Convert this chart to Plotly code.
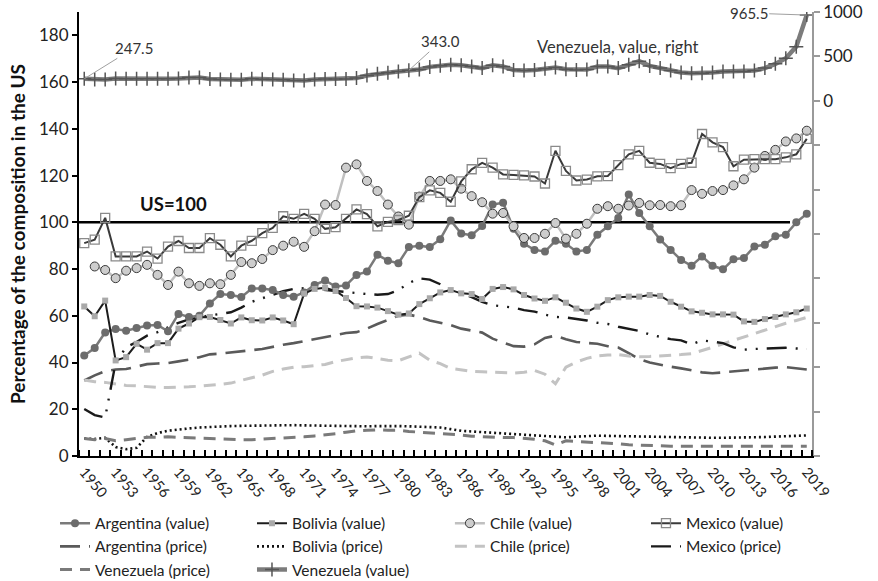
import plotly.graph_objects as go

# ---- data -----------------------------------------------------------------
years = list(range(1950, 2020))

argentina_value = [
    43.0, 46.2, 52.9, 54.3, 53.6, 54.8, 55.8, 56.1, 53.4, 60.8,
    59.5, 60.0, 65.3, 69.3, 68.9, 68.0, 71.7, 71.7, 71.0, 68.9,
    68.2, 70.0, 73.2, 75.1, 72.5, 73.0, 77.5, 78.9, 86.1, 83.6,
    82.5, 89.4, 90.0, 89.4, 92.8, 100.8, 95.2, 94.5, 98.4, 107.6,
    108.4, 97.2, 90.8, 88.2, 87.5, 92.1, 90.8, 87.5, 88.2, 94.7,
    98.3, 101.9, 111.9, 104.0, 98.3, 92.6, 88.2, 83.9, 81.4, 85.4,
    81.4, 79.9, 84.2, 84.7, 89.7, 90.4, 94.0, 94.7, 100.0, 103.7,
]
bolivia_value = [
    64.0, 59.8, 66.5, 40.9, 42.3, 48.0, 45.5, 48.3, 48.3, 54.5,
    56.7, 59.4, 59.5, 58.2, 56.7, 59.3, 58.1, 58.0, 59.3, 58.0,
    56.4, 69.5, 71.5, 72.0, 70.6, 67.6, 64.1, 64.0, 63.5, 62.0,
    60.5, 61.0, 65.0, 67.5, 70.0, 71.0, 69.6, 69.3, 67.2, 71.5,
    72.3, 71.3, 68.9, 67.4, 66.4, 67.9, 65.6, 63.1, 61.7, 63.9,
    66.7, 67.9, 68.2, 68.2, 68.9, 68.5, 66.0, 63.9, 61.9, 61.3,
    60.6, 60.6, 60.5, 57.6, 57.4, 58.6, 59.5, 60.6, 61.5, 63.1,
]
chile_value = [
    None, 81.1, 79.6, 76.1, 79.3, 80.4, 81.8, 77.5, 73.2, 78.9,
    73.9, 72.8, 73.9, 73.5, 77.5, 83.0, 82.5, 84.3, 88.1, 90.0,
    91.7, 89.5, 96.2, 107.6, 107.4, 123.4, 124.8, 117.7, 113.4, 107.6,
    102.5, 99.0, 111.0, 117.7, 117.7, 118.4, 114.4, 111.2, 108.6, 103.7,
    104.0, 98.3, 93.3, 93.3, 95.1, 99.7, 93.0, 95.1, 99.4, 105.8,
    106.9, 105.8, 107.2, 108.3, 107.3, 107.4, 106.9, 107.3, 113.8, 112.2,
    113.4, 113.8, 115.8, 118.4, 123.4, 128.4, 131.0, 134.6, 135.9, 139.2,
]
mexico_value = [
    91.1, 92.6, 101.9, 85.4, 85.4, 85.4, 87.5, 84.5, 89.6, 92.0,
    89.0, 89.0, 93.2, 90.4, 85.4, 90.0, 92.1, 95.4, 97.6, 102.6,
    101.5, 103.6, 101.5, 97.2, 97.9, 101.5, 105.5, 103.5, 98.3, 100.2,
    101.0, 102.8, 110.8, 113.7, 112.6, 108.8, 117.5, 122.7, 125.4, 123.4,
    120.5, 120.3, 120.1, 119.6, 116.6, 130.6, 122.0, 117.9, 118.3, 119.7,
    119.8, 124.5, 129.1, 130.6, 125.5, 125.0, 123.2, 125.0, 125.5, 137.8,
    134.2, 132.2, 124.0, 126.8, 127.0, 127.0, 127.0, 127.8, 129.1, 135.7,
]
argentina_price = [
    32.3, 34.5, 36.3, 37.0, 37.2, 38.2, 39.3, 39.6, 39.8, 40.5,
    41.2, 42.3, 43.5, 43.8, 44.2, 44.8, 45.3, 45.8, 46.8, 47.6,
    48.3, 49.2, 50.0, 50.8, 52.0, 52.6, 53.0, 54.5, 56.5, 58.2,
    60.0, 60.5, 59.5, 58.0, 57.0, 56.0, 54.5, 53.8, 52.8, 50.2,
    48.5, 47.0, 46.8, 47.8, 50.5, 51.5, 50.0, 48.8, 48.4, 48.0,
    47.0, 46.4, 44.0, 41.5, 40.0, 39.0, 38.2, 37.5, 36.5, 35.8,
    35.4, 35.8, 36.4, 36.6, 36.9, 37.4, 37.8, 38.0, 37.6, 37.0,
]
bolivia_price = [
    7.5, 7.3, 7.8, 3.8, 2.9, 3.5, 8.2, 9.8, 10.8, 11.4,
    11.8, 12.2, 12.5, 12.7, 12.8, 12.9, 13.0, 13.1, 13.2, 13.2,
    13.2, 13.1, 13.0, 13.0, 12.9, 12.9, 12.8, 12.7, 12.8, 12.9,
    12.8, 12.7, 12.6, 12.5, 12.2, 11.5, 10.8, 10.5, 10.2, 10.0,
    9.8, 9.4, 9.0, 8.8, 8.5, 8.2, 8.0, 8.3, 8.6, 8.7,
    8.6, 8.5, 8.4, 8.3, 8.2, 8.0, 7.9, 7.8, 7.8, 7.8,
    7.8, 7.8, 7.8, 7.9, 8.0, 8.1, 8.3, 8.5, 8.6, 8.8,
]
chile_price = [
    32.5, 31.8, 31.5, 30.8, 30.2, 30.0, 29.6, 29.4, 29.3, 29.3,
    29.6, 29.9, 30.2, 30.6, 31.2, 32.2, 33.5, 34.6, 36.2, 37.2,
    38.0, 38.2, 38.6, 39.2, 40.4, 41.2, 42.0, 42.4, 41.6, 41.0,
    40.8, 42.5, 44.0, 41.0, 39.5, 37.5, 36.8, 36.2, 36.0, 35.8,
    35.6, 35.5, 35.8, 36.6, 35.0, 30.9, 38.0, 40.2, 41.8, 42.8,
    43.2, 43.4, 42.8, 42.5, 42.6, 42.8, 43.2, 43.4, 43.8, 45.0,
    46.5, 48.0, 49.5, 51.0, 52.6, 54.0, 55.5, 56.8, 58.0, 59.3,
]
mexico_price = [
    20.1, 17.5, 16.5, 40.0, 46.5, 48.8, 51.5, 53.0, 55.0, 57.0,
    58.5, 59.5, 60.2, 60.8, 61.5, 63.5, 66.0, 67.5, 69.0, 70.5,
    71.5, 71.8, 71.5, 71.0, 70.5, 70.0, 69.8, 69.3, 69.0, 69.3,
    71.0, 74.0, 76.0, 75.5, 73.5, 71.0, 69.5, 68.0, 66.0, 64.5,
    64.0, 63.5, 62.4, 61.8, 60.5, 59.5, 59.3, 58.7, 58.0, 57.0,
    56.5, 55.3, 54.3, 53.5, 52.0, 51.0, 50.0, 49.5, 47.8, 49.5,
    49.0, 48.3, 46.5, 45.5, 45.8, 46.0, 46.3, 46.3, 46.0, 45.8,
]
venezuela_price = [
    7.5, 7.0, 7.5, 6.5, 7.0, 7.5, 8.0, 8.0, 8.2, 8.0,
    7.8, 7.6, 7.4, 7.2, 7.2, 7.0, 7.0, 7.2, 7.4, 7.6,
    7.8, 8.2, 8.6, 9.0, 9.5, 10.2, 10.8, 11.0, 11.2, 11.0,
    11.0, 10.5, 10.2, 10.0, 9.8, 9.5, 9.0, 8.5, 8.2, 8.0,
    7.9, 7.9, 7.6, 7.2, 6.5, 4.7, 6.5, 6.3, 5.9, 5.6,
    5.4, 5.2, 4.8, 4.6, 4.4, 4.3, 4.2, 4.2, 4.2, 4.2,
    4.2, 4.2, 4.2, 4.2, 4.2, 4.2, 4.2, 4.2, 4.2, 4.2,
]
# Venezuela value is plotted against the right-hand axis
venezuela_value = [
    247.5, 240, 240, 250, 247, 247, 247, 247, 247, 250,
    262, 262, 245, 240, 236, 236, 248, 242, 240, 236,
    230, 230, 240, 245, 245, 245, 258, 284, 305, 315,
    330, 343.0, 352, 382, 395, 405, 400, 386, 368, 400,
    386, 348, 341, 348, 360, 375, 356, 348, 352, 386,
    386, 368, 405, 445, 393, 368, 341, 318, 311, 311,
    318, 330, 330, 330, 341, 368, 416, 480, 610, 965.5,
]

us_level = 100
us_line_end = 2017.4
left_ticks = list(range(0, 181, 20))
right_ticks = list(range(-4000, 1001, 500))
right_labels = [str(v) if v >= 0 else "" for v in right_ticks]
labelled_points = [1950, 1981, 2019]   # Venezuela value points carrying a label

FONT = "Lato, 'Open Sans', sans-serif"

fig = go.Figure()


def line(name, values, legend, rank, color, width, dash="solid", marker=None,
         axis="y"):
    fig.add_trace(go.Scatter(
        x=years, y=values, name=name, legend=legend, legendrank=rank,
        yaxis=axis, mode="lines+markers" if marker else "lines",
        line=dict(color=color, width=width, dash=dash),
        marker=marker, connectgaps=False,
    ))


# price series (drawn first so the value series sit on top)
line("Argentina (price)", argentina_price, "legend", 2, "#5a5a5a", 2.6,
     "20px,9px")
line("Bolivia (price)", bolivia_price, "legend2", 2, "#111111", 2.6, "2px,3px")
line("Chile (price)", chile_price, "legend3", 2, "#c3c3c3", 3, "12px,8px")
line("Mexico (price)", mexico_price, "legend4", 2, "#1a1a1a", 2.4,
     "20px,9px,2px,9px,2px,9px")
line("Venezuela (price)", venezuela_price, "legend", 3, "#7a7a7a", 3,
     "12px,8px")

# value series
line("Argentina (value)", argentina_value, "legend", 1, "#7a7a7a", 2.5,
     marker=dict(symbol="circle", size=8, color="#6c6c6c"))
line("Bolivia (value)", bolivia_value, "legend2", 1, "#1c1c1c", 2,
     marker=dict(symbol="square", size=6, color="#a9a9a9"))
line("Chile (value)", chile_value, "legend3", 1, "#c0c0c0", 2.5,
     marker=dict(symbol="circle", size=9, color="#cdcdcd",
                 line=dict(color="#3a3a3a", width=1)))
line("Mexico (value)", mexico_value, "legend4", 1, "#3a3a3a", 2,
     marker=dict(symbol="square-open", size=9, color="#8a8a8a",
                 line=dict(width=1.3)))
line("Venezuela (value)", venezuela_value, "legend2", 3, "#7c7c7c", 4.5,
     marker=dict(symbol="cross-thin", size=10,
                 line=dict(color="#555555", width=1.5)), axis="y2")

# reference level
fig.add_shape(type="line", xref="x", yref="y", x0=1949.5, x1=us_line_end,
              y0=us_level, y1=us_level, line=dict(color="black", width=2.5),
              layer="below")

# labels on the Venezuela value line
offsets = {1950: (50, -31), 1981: (32, -29), 2019: (-58, -2)}
for yr in labelled_points:
    val = venezuela_value[years.index(yr)]
    ax, ay = offsets[yr]
    fig.add_annotation(x=yr, y=val, xref="x", yref="y2", text=f"{val:.1f}",
                       showarrow=True, arrowhead=0, arrowwidth=1,
                       arrowcolor="#a0a0a0", ax=ax, ay=ay,
                       font=dict(family=FONT, size=15, color="#333333"))

fig.add_annotation(x=0.735, y=0.921, xref="paper", yref="paper",
                   xanchor="center", yanchor="middle",
                   text="Venezuela, value, right", showarrow=False,
                   font=dict(family=FONT, size=16.5, color="#333333"))
fig.add_annotation(x=0.129, y=0.568, xref="paper", yref="paper",
                   xanchor="center", yanchor="middle",
                   text="<b>US=100</b>", showarrow=False,
                   font=dict(family=FONT, size=18.5, color="#111111"))

# one legend per column below the chart
legend_style = dict(orientation="v", xanchor="left", yanchor="top",
                    y=-0.114, bgcolor="rgba(0,0,0,0)", itemwidth=30,
                    font=dict(family=FONT, size=15.5, color="#222222"))
column_x = [-0.0327, 0.236, 0.506, 0.7735]

fig.update_layout(
    width=878, height=581,
    margin=dict(l=79, r=66, t=12, b=125, autoexpand=False),
    paper_bgcolor="white", plot_bgcolor="white",
    font=dict(family=FONT, size=16, color="#222222"),
    showlegend=True,
    legend=dict(x=column_x[0], **legend_style),
    legend2=dict(x=column_x[1], **legend_style),
    legend3=dict(x=column_x[2], **legend_style),
    legend4=dict(x=column_x[3], **legend_style),
    xaxis=dict(range=[1949.5, 2019.5], tick0=1950, dtick=3, ticks="",
               showline=True, linecolor="black", linewidth=2,
               tickangle=50, tickfont=dict(size=14.5), showgrid=False,
               zeroline=False,
               minor=dict(ticks="inside", tick0=1949.5, dtick=1, ticklen=6,
                          tickwidth=1.5, tickcolor="black", showgrid=False)),
    yaxis=dict(range=[0, 190], tickvals=left_ticks, ticks="outside",
               ticklen=5, tickwidth=1.5, tickcolor="black", showline=True,
               linecolor="black", linewidth=2, showgrid=False, zeroline=False,
               tickfont=dict(size=17),
               title=dict(text="<b>Percentage of the composition in the US</b>",
                          font=dict(size=19, color="#111111"), standoff=8)),
    yaxis2=dict(overlaying="y", side="right", range=[-4000, 1000],
                tickvals=right_ticks, ticktext=right_labels, ticks="outside",
                ticklen=6, tickwidth=1.5, tickcolor="#9a9a9a", showline=True,
                linecolor="#9a9a9a", linewidth=1.5, showgrid=False,
                zeroline=False, tickfont=dict(size=17)),
)

fig.write_html("out.html")
